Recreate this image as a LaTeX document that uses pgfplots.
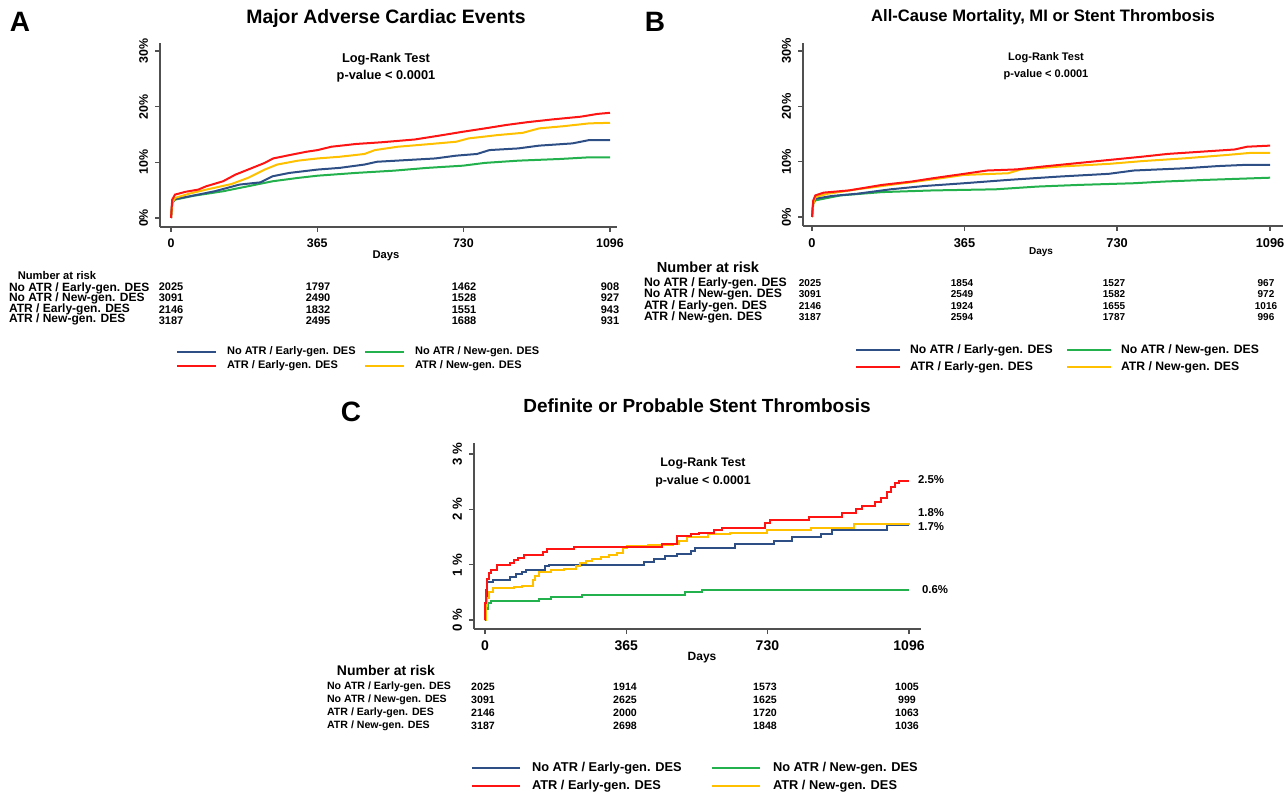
\documentclass[border=0pt]{standalone}
\usepackage{fontspec}
\setmainfont{Liberation Sans}
\usepackage{pgfplots}
\pgfplotsset{compat=1.18}
\definecolor{cblue}{HTML}{2E4F86}
\definecolor{cgreen}{HTML}{22B14C}
\definecolor{cred}{HTML}{FF1414}
\definecolor{cyel}{HTML}{FFC000}
\definecolor{axgray}{HTML}{505050}
\newcommand{\fs}[1]{\fontsize{#1}{#1}\selectfont\bfseries}

\pgfplotsset{
  km/.style={
    scale only axis,
    anchor=south west,
    axis lines=left,
    axis line style={-, draw=axgray, line width=0.75pt},
    tick style={draw=axgray, line width=0.6pt},
    tick align=outside,
    major tick length=2.5pt,
    xtick={0,365,730,1096},
    xticklabels={0,365,730,1096},
    yticklabel style={rotate=90, anchor=south},
    every axis plot/.append style={line width=1pt},
    clip=false,
  }
}

\begin{document}
\begin{tikzpicture}[x=0.5pt,y=-0.5pt]
\path[use as bounding box] (0,0) rectangle (1288,796);

% ---------------- Panel A
\node[font=\fs{14}] at (20,22) {A};
\node[font=\fs{9.7}] at (386,18) {Major Adverse Cardiac Events};
\begin{axis}[km, at={(80pt,-113.5pt)}, width=228.5pt, height=92pt,
  xmin=-27.5, xmax=1113.5, ymin=-1.62, ymax=31.44,
  ytick={0,10,20,30}, yticklabels={0\%,10\%,20\%,30\%},
  ticklabel style={font=\fs{6.2}}]
\addplot[cgreen] coordinates {(0,0) (3,2.7) (10,3.3) (57,4.0) (130,4.8) (192,5.7) (254,6.6) (317,7.2) (366,7.6) (462,8.1) (556,8.5) (639,9.0) (729,9.4) (784,9.9) (867,10.3) (971,10.6) (1044,10.9) (1096,10.9)};
\addplot[cblue] coordinates {(0,0) (3,2.7) (10,3.4) (47,3.9) (109,4.8) (171,6.0) (223,6.4) (254,7.5) (296,8.1) (366,8.7) (421,9.0) (483,9.6) (514,10.1) (587,10.4) (660,10.7) (712,11.2) (764,11.5) (795,12.2) (867,12.5) (919,13.0) (1002,13.4) (1044,14.0) (1096,14.0)};
\addplot[cyel] coordinates {(0,0) (3,2.7) (10,3.6) (47,4.4) (88,5.1) (151,6.1) (192,7.2) (234,8.7) (265,9.6) (317,10.3) (366,10.7) (421,11.0) (483,11.5) (509,12.2) (566,12.8) (649,13.3) (712,13.7) (743,14.3) (816,14.9) (878,15.3) (919,16.1) (981,16.5) (1044,17.0) (1096,17.1)};
\addplot[cred] coordinates {(0,0) (3,3.3) (10,4.2) (36,4.7) (68,5.1) (88,5.7) (130,6.6) (161,7.8) (203,9.0) (234,9.9) (255,10.7) (296,11.3) (338,11.9) (366,12.2) (400,12.8) (462,13.3) (525,13.6) (608,14.1) (670,14.8) (729,15.5) (784,16.1) (836,16.7) (888,17.2) (951,17.7) (1023,18.2) (1065,18.7) (1096,18.9)};
\end{axis}
\node[font=\fs{6.4}] at (386,59) {Log-Rank Test};
\node[font=\fs{6.4}] at (386,76) {p-value < 0.0001};
\node[font=\fs{5.6}] at (386,256) {Days};
\node[font=\fs{5.6}] at (57,275) {Number at risk};
\begin{scope}[every node/.style={font=\fs{6}}]
\node[anchor=west] at (2,288) {No ATR / Early-gen. DES};
\node[anchor=west] at (2,298.5) {No ATR / New-gen. DES};
\node[anchor=west] at (2,309) {ATR / Early-gen. DES};
\node[anchor=west] at (2,319.5) {ATR / New-gen. DES};
\end{scope}
\begin{scope}[every node/.style={font=\fs{5.5}}]
\node at (171,287) {2025}; \node at (318,287) {1797}; \node at (464,287) {1462}; \node at (610,287) {908};
\node at (171,298) {3091}; \node at (318,298) {2490}; \node at (464,298) {1528}; \node at (610,298) {927};
\node at (171,309.5) {2146}; \node at (318,309.5) {1832}; \node at (464,309.5) {1551}; \node at (610,309.5) {943};
\node at (171,321) {3187}; \node at (318,321) {2495}; \node at (464,321) {1688}; \node at (610,321) {931};
\end{scope}
\draw[cblue, line width=1pt] (177,352) -- (216,352);
\draw[cgreen, line width=1pt] (365,352) -- (404,352);
\draw[cred, line width=1pt] (177,366) -- (216,366);
\draw[cyel, line width=1pt] (365,366) -- (404,366);
\begin{scope}[every node/.style={font=\fs{5.5}, anchor=west}]
\node at (220,352) {No ATR / Early-gen. DES};
\node at (408,352) {No ATR / New-gen. DES};
\node at (220,366) {ATR / Early-gen. DES};
\node at (408,366) {ATR / New-gen. DES};
\end{scope}

% ---------------- Panel B
\node[font=\fs{14}] at (655,22) {B};
\node[font=\fs{8.3}] at (1043,17) {All-Cause Mortality, MI or Stent Thrombosis};
\begin{axis}[km, at={(401.5pt,-113pt)}, width=240pt, height=91.5pt,
  xmin=-21.5, xmax=1127, ymin=-1.63, ymax=31.45,
  ytick={0,10,20,30}, yticklabels={0\%,10\%,20\%,30\%},
  ticklabel style={font=\fs{6.4}}]
\addplot[cgreen] coordinates {(0,0) (3,2.4) (8,3.0) (68,3.9) (168,4.5) (289,4.8) (439,5.0) (540,5.5) (640,5.8) (770,6.1) (841,6.4) (941,6.7) (1096,7.1)};
\addplot[cblue] coordinates {(0,0) (3,2.7) (8,3.3) (48,3.8) (108,4.2) (188,5.0) (269,5.6) (364,6.1) (469,6.7) (590,7.3) (710,7.8) (770,8.4) (891,8.8) (971,9.2) (1031,9.4) (1096,9.4)};
\addplot[cyel] coordinates {(0,0) (3,2.4) (8,3.6) (38,4.2) (108,5.0) (188,5.8) (289,6.8) (364,7.6) (469,7.9) (500,8.6) (590,9.1) (710,9.6) (790,10.1) (891,10.6) (991,11.2) (1051,11.6) (1096,11.6)};
\addplot[cred] coordinates {(0,0) (3,3.0) (8,3.9) (28,4.4) (88,4.8) (168,5.8) (238,6.4) (289,7.0) (364,7.8) (419,8.4) (490,8.6) (550,9.1) (630,9.7) (710,10.3) (790,10.9) (851,11.4) (931,11.8) (1011,12.2) (1041,12.7) (1096,12.9)};
\end{axis}
\node[font=\fs{5.5}] at (1046,58) {Log-Rank Test};
\node[font=\fs{5.5}] at (1046,75) {p-value < 0.0001};
\node[font=\fs{5}] at (1041,252) {Days};
\node[font=\fs{7.3}] at (708,267) {Number at risk};
\begin{scope}[every node/.style={font=\fs{6.1}}]
\node[anchor=west] at (637,283) {No ATR / Early-gen. DES};
\node[anchor=west] at (637,294) {No ATR / New-gen. DES};
\node[anchor=west] at (637,306) {ATR / Early-gen. DES};
\node[anchor=west] at (637,317) {ATR / New-gen. DES};
\end{scope}
\begin{scope}[every node/.style={font=\fs{5}}]
\node at (810,283) {2025}; \node at (962,283) {1854}; \node at (1114,283) {1527}; \node at (1266,283) {967};
\node at (810,294) {3091}; \node at (962,294) {2549}; \node at (1114,294) {1582}; \node at (1266,294) {972};
\node at (810,306) {2146}; \node at (962,306) {1924}; \node at (1114,306) {1655}; \node at (1266,306) {1016};
\node at (810,317) {3187}; \node at (962,317) {2594}; \node at (1114,317) {1787}; \node at (1266,317) {996};
\end{scope}
\draw[cblue, line width=1pt] (856,350) -- (900,350);
\draw[cgreen, line width=1pt] (1067,350) -- (1111,350);
\draw[cred, line width=1pt] (856,367) -- (900,367);
\draw[cyel, line width=1pt] (1067,367) -- (1111,367);
\begin{scope}[every node/.style={font=\fs{6.1}, anchor=west}]
\node at (903,350) {No ATR / Early-gen. DES};
\node at (1114,350) {No ATR / New-gen. DES};
\node at (903,367) {ATR / Early-gen. DES};
\node at (1114,367) {ATR / New-gen. DES};
\end{scope}

% ---------------- Panel C
\node[font=\fs{14}] at (351,412) {C};
\node[font=\fs{9.5}] at (697,406) {Definite or Probable Stent Thrombosis};
\begin{axis}[km, at={(237pt,-314.5pt)}, width=223.5pt, height=93pt,
  xmin=-28.4, xmax=1127, ymin=-0.163, ymax=3.2,
  ytick={0,1,2,3}, yticklabels={0 \%,1 \%,2 \%,3 \%},
  xticklabel style={font=\fs{7}}, yticklabel style={font=\fs{6.6}}]
\addplot[cgreen, const plot] coordinates {(0,0) (1,0.1) (3,0.2) (9,0.3) (16,0.35) (139,0.38) (171,0.42) (251,0.45) (517,0.5) (560,0.55) (1096,0.55)};
\addplot[cblue, const plot] coordinates {(0,0) (2,0.35) (4,0.6) (5,0.68) (21,0.73) (64,0.78) (80,0.83) (96,0.87) (107,0.9) (155,0.97) (165,1.0) (410,1.05) (437,1.1) (464,1.15) (496,1.2) (533,1.25) (544,1.3) (645,1.37) (746,1.43) (794,1.5) (869,1.55) (896,1.63) (1039,1.72) (1096,1.72)};
\addplot[cyel, const plot] coordinates {(0,0) (3,0.25) (5,0.4) (11,0.5) (21,0.57) (75,0.6) (96,0.62) (123,0.72) (128,0.8) (139,0.87) (171,0.9) (203,0.93) (235,0.97) (245,1.03) (261,1.07) (277,1.1) (299,1.13) (320,1.18) (341,1.22) (357,1.3) (368,1.33) (421,1.36) (485,1.38) (501,1.43) (522,1.5) (576,1.55) (634,1.57) (730,1.62) (842,1.67) (954,1.73) (1096,1.75)};
\addplot[cred, const plot] coordinates {(0,0) (1,0.3) (3,0.55) (6,0.75) (10,0.85) (16,0.9) (32,1.0) (64,1.03) (75,1.08) (85,1.12) (101,1.18) (149,1.23) (160,1.28) (229,1.32) (458,1.37) (496,1.52) (533,1.55) (554,1.58) (592,1.63) (613,1.67) (725,1.75) (736,1.8) (837,1.86) (922,1.93) (959,2.0) (975,2.07) (1007,2.13) (1023,2.2) (1039,2.32) (1050,2.4) (1061,2.47) (1071,2.52) (1096,2.52)};
\end{axis}
\node[font=\fs{6.2}] at (703,463) {Log-Rank Test};
\node[font=\fs{6.2}] at (703,481) {p-value < 0.0001};
\begin{scope}[every node/.style={font=\fs{5.7}, anchor=west}]
\node at (911,480) {2.5\%};
\node at (911,513) {1.8\%};
\node at (911,527) {1.7\%};
\node at (915,590) {0.6\%};
\end{scope}
\node[font=\fs{6}] at (702,658) {Days};
\node[font=\fs{7}] at (386,670) {Number at risk};
\begin{scope}[every node/.style={font=\fs{5.3}}]
\node[anchor=west] at (320,687) {No ATR / Early-gen. DES};
\node[anchor=west] at (320,700) {No ATR / New-gen. DES};
\node[anchor=west] at (320,713) {ATR / Early-gen. DES};
\node[anchor=west] at (320,726) {ATR / New-gen. DES};
\node at (483,687) {2025}; \node at (625,687) {1914}; \node at (765,687) {1573}; \node at (907,687) {1005};
\node at (483,700) {3091}; \node at (625,700) {2625}; \node at (765,700) {1625}; \node at (907,700) {999};
\node at (483,713) {2146}; \node at (625,713) {2000}; \node at (765,713) {1720}; \node at (907,713) {1063};
\node at (483,726) {3187}; \node at (625,726) {2698}; \node at (765,726) {1848}; \node at (907,726) {1036};
\end{scope}
\draw[cblue, line width=1pt] (472,768) -- (520,768);
\draw[cgreen, line width=1pt] (712,768) -- (760,768);
\draw[cred, line width=1pt] (472,786) -- (520,786);
\draw[cyel, line width=1pt] (712,786) -- (760,786);
\begin{scope}[every node/.style={font=\fs{6.4}, anchor=west}]
\node at (525,768) {No ATR / Early-gen. DES};
\node at (766,768) {No ATR / New-gen. DES};
\node at (525,786) {ATR / Early-gen. DES};
\node at (766,786) {ATR / New-gen. DES};
\end{scope}
\end{tikzpicture}
\end{document}
